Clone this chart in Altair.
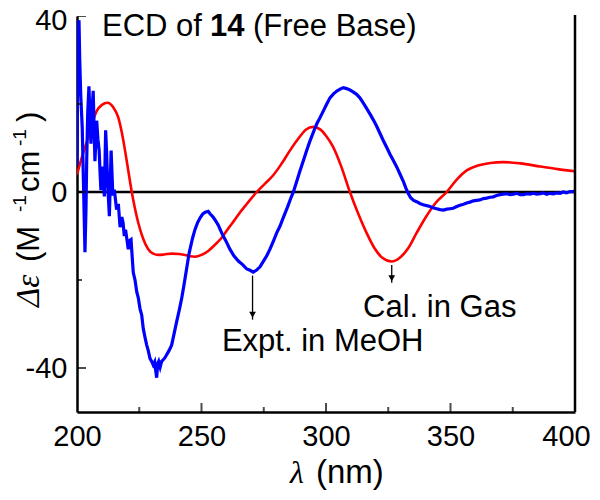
import altair as alt
import pandas as pd

# ---- data ----
calc_nm = [200, 202, 204.5, 206, 207.9, 210, 212.3, 214.5, 216.6, 218, 219.3, 220.7, 222,
           223.3, 224.6, 226.5, 228.6, 230.6, 232.7, 235, 238, 241, 243.4, 245.5, 247.4,
           250, 252.7, 255.4, 258.1, 261, 263.5, 265.5, 267.5, 269.5, 272.2, 275.5, 278.8,
           282, 285.5, 289, 292, 294.9, 297.5, 300, 302.9, 306, 309.6, 313, 316.3, 319.5,
           322.5, 326.4, 329.5, 333, 336.4, 340, 344, 348.5, 352.5, 356.5, 361, 366, 371.2,
           378, 386, 393, 400]
calc_val = [4, 8, 12.4, 15.5, 18.4, 19.8, 20.3, 19.3, 16.9, 13.5, 9.4, 4.5, 0,
            -3.8, -7.0, -10.5, -13.0, -14.0, -14.3, -14.2, -14.0, -14.1, -14.3, -14.6, -14.7,
            -14.3, -13.4, -12, -10.4, -8.1, -6.2, -4.6, -3.2, -1.8, 0, 1.9, 3.8,
            6.3, 9.4, 12.2, 14.2, 14.8, 14.3, 12.8, 10.2, 6.0, 0, -5, -9.3, -12.8,
            -14.9, -15.8, -15.0, -12.8, -9.3, -5.8, -2.5, 0, 2.8, 4.9, 6.0, 6.6, 6.8,
            6.5, 5.8, 5.2, 4.7]

expt_nm = [200.0, 200.4, 200.8, 201.1, 201.5, 202.1, 202.6, 203.2, 203.6, 203.9, 204.3, 204.8,
           205.2, 205.6, 206.0, 206.5, 206.9, 207.2, 207.6, 207.9, 208.4, 208.9, 209.3, 209.6,
           210.2, 210.6, 211.0, 211.5, 211.9, 212.3, 213.0, 213.7, 214.4, 215.0, 215.5, 215.9,
           216.6, 217.3, 218.0, 218.5, 219.0, 219.5, 220.1, 220.6, 221.2, 221.7, 222.2, 222.6,
           223.3, 224.0, 224.6, 225.3, 226.0, 226.6, 227.3, 228.0, 228.6, 229.3, 230.0, 230.6,
           231.2, 231.6, 232.0, 232.4, 232.8, 233.4, 234.0, 234.8, 235.4, 236.0, 237.0, 238.0,
           239.0, 240.0, 241.0, 242.0, 243.0, 244.0, 245.0, 245.4, 246.4, 247.4, 248.4, 249.4,
           250.5, 251.5, 252.7, 253.5, 254.5, 255.4, 256.8, 258.1, 259.7, 261.4, 263.0, 264.8,
           266.5, 268.2, 269.5, 270.8, 272.0, 273.5, 275.0, 276.2, 277.5, 279.0, 280.2, 281.5,
           283.0, 284.5, 286.0, 286.9, 288.0, 289.5, 291.0, 292.2, 293.5, 295.0, 296.3, 297.6,
           299.0, 300.3, 301.6, 303.0, 304.5, 306.0, 307.0, 308.3, 309.6, 311.0, 312.3, 313.6,
           315.0, 316.3, 317.7, 319.0, 320.3, 321.7, 323.0, 324.4, 325.7, 327.0, 328.4, 329.7,
           331.0, 332.0, 333.0, 334.0, 335.2, 336.4, 337.7, 339.0, 340.4, 341.8, 343.0, 344.4,
           345.8, 347.2, 348.5, 349.8, 351.1, 352.5, 353.8, 355.2, 356.5, 357.8, 359.2, 360.5,
           361.8, 363.2, 364.5, 365.9, 367.2, 368.5, 369.9, 371.2, 372.6, 374.0, 375.3, 376.6,
           378.0, 379.3, 380.6, 382.0, 383.3, 384.6, 386.0, 387.3, 388.6, 390.0, 391.3, 392.6,
           394.0, 395.3, 396.6, 398.0, 399.3, 400.0]
expt_val = [6, 38, 39, 30, 22, 14.7, 2, -13.7, -4, 7.2, 18, 24,
            17, 11, 18, 23, 14, 7, 12, 16.2, 12, 9.4, 4, 0.4,
            5.8, 2, -1, 14, 9, 2, -5.5, 9.4, -0.8, 0.5, -2, -4,
            -2.7, -8, -5.7, -7, -10, -8.6, -11, -13, -11, -10.8, -15, -18.3,
            -20, -22.7, -24, -26.5, -28, -31, -33, -34.8, -36, -37.8, -38.5, -39.3,
            -38.6, -40.5, -42.2, -39, -38.5, -39.8, -38.5, -38, -37.6, -37, -36, -34.8,
            -32.2, -29.5, -27, -24.3, -21, -17.5, -14, -13, -10.5, -8.5, -7, -5.9,
            -5, -4.6, -4.4, -5, -5.6, -6.3, -7.6, -9.3, -11, -13, -14.5, -15.7,
            -16.5, -17.5, -17.8, -18.2, -17.8, -17, -15.6, -14.5, -13, -11, -9.3, -7.8,
            -5.6, -3.5, -1.2, 0, 2, 4.7, 7.3, 9.4, 11.5, 13.7, 15.5, 16.9,
            18.5, 20, 21.4, 22.3, 23, 23.5, 23.7, 23.5, 23.2, 22.7, 22.2, 21.4,
            20.2, 19, 17.7, 16.4, 15, 13.3, 11.7, 10.1, 8.6, 7.2, 5.7, 4.1,
            2.5, 1, -0.3, -1.3, -1.9, -2.2, -2.6, -2.9, -3.1, -3.3, -3.6, -3.8,
            -4, -4.1, -3.9, -3.8, -3.7, -3.3, -3.0, -2.8, -2.5, -2.3, -2.0, -1.9,
            -1.8, -1.5, -1.4, -1.2, -1.1, -0.8, -0.6, -0.5, -0.4, -0.6, -0.5, -0.3,
            -0.6, -0.6, -0.4, -0.5, -0.3, -0.5, -0.4, -0.2, -0.5, -0.3, -0.4, -0.2,
            -0.3, 0, -0.2, 0.1, 0.1, 0.2]

x_major = [200, 250, 300, 350, 400]
x_minor = [225, 275, 325, 375]
y_major = [-40, 0, 40]
y_minor = [-20, 20]

annot_text = ["Expt. in MeOH", "Cal. in Gas"]
annot_x = [258.2, 314.9]
annot_y = [-36.2, -28.3]
arrow_x = [270.5, 326.4]
arrow_y1 = [-19.0, -16.6]
arrow_y2 = [-29.0, -20.6]
arrow_head = [-27.9, -19.6]

TOP = 16   # absolute page y of plot top
LEFT = 77  # absolute page x of plot left
BOTTOM = 412
W, H = 498, BOTTOM - TOP
SANS = "Liberation Sans"
SERIF = "Liberation Serif"

xs = alt.Scale(domain=[200, 400], nice=False, zero=False)
ys = alt.Scale(domain=[-50, 40], nice=False, zero=False)

calc_df = pd.DataFrame({"nm": calc_nm, "v": calc_val})
expt_df = pd.DataFrame({"nm": expt_nm, "v": expt_val})

base_axes = alt.Chart(pd.DataFrame({"nm": [200, 400], "v": [-50, 40]})).mark_point(opacity=0).encode(
    x=alt.X("nm:Q", scale=xs, axis=alt.Axis(values=x_major, title=None, grid=False, ticks=False,
            tickSize=0, labelFontSize=29, labelFont=SANS, labelColor="black", labelPadding=10,
            domainColor="black", domainWidth=2.5, labelFlush=False,
            labelOffset={"condition": {"test": "datum.value === 400", "value": -9}, "value": 0})),
    y=alt.Y("v:Q", scale=ys, axis=alt.Axis(values=y_major, title=None, grid=False, ticks=False,
            tickSize=0, labelFontSize=29, labelFont=SANS, labelColor="black", labelPadding=10,
            domainColor="black", domainWidth=2.5, labelFlush=False, labelExpr="'' + datum.value",
            labelOffset={"condition": {"test": "datum.value === 40", "value": 4}, "value": 0})),
)

zero = alt.Chart(pd.DataFrame({"v": [0]})).mark_rule(color="black", strokeWidth=2.5).encode(
    y=alt.Y("v:Q", scale=ys))

right = alt.Chart(pd.DataFrame({"v": [0]})).mark_rule(color="black", strokeWidth=2.5).encode(
    x=alt.value(W), y=alt.value(-1), y2=alt.value(H))

xmaj = alt.Chart(pd.DataFrame({"nm": x_major})).mark_tick(orient="vertical", size=18, thickness=2,
        color="black", clip=True).encode(x=alt.X("nm:Q", scale=xs), y=alt.value(H))
xmin = alt.Chart(pd.DataFrame({"nm": x_minor})).mark_tick(orient="vertical", size=10, thickness=2,
        color="black", clip=True).encode(x=alt.X("nm:Q", scale=xs), y=alt.value(H))
ymaj = alt.Chart(pd.DataFrame({"v": y_major})).mark_tick(orient="horizontal", size=18, thickness=2,
        color="black", clip=True).encode(y=alt.Y("v:Q", scale=ys), x=alt.value(0))
ymin = alt.Chart(pd.DataFrame({"v": y_minor})).mark_tick(orient="horizontal", size=10, thickness=2,
        color="black", clip=True).encode(y=alt.Y("v:Q", scale=ys), x=alt.value(0))

red = alt.Chart(calc_df).mark_line(color="#ff0000", strokeWidth=2.6, interpolate="monotone",
        clip=True).encode(x=alt.X("nm:Q", scale=xs), y=alt.Y("v:Q", scale=ys))
blue = alt.Chart(expt_df).mark_line(color="#0000ff", strokeWidth=3.2, clip=True).encode(
        x=alt.X("nm:Q", scale=xs), y=alt.Y("v:Q", scale=ys))

arr_df = pd.DataFrame({"x": arrow_x, "y1": arrow_y1, "y2": arrow_y2, "h": arrow_head})
arrows = alt.Chart(arr_df).mark_rule(color="black", strokeWidth=1.3).encode(
    x=alt.X("x:Q", scale=xs), y=alt.Y("y1:Q", scale=ys), y2="y2:Q")
heads = alt.Chart(arr_df).mark_point(shape="triangle-down", filled=True, color="black",
        size=45, opacity=1).encode(x=alt.X("x:Q", scale=xs), y=alt.Y("h:Q", scale=ys))

ann_df = pd.DataFrame({"t": annot_text, "x": annot_x, "y": annot_y})
annots = alt.Chart(ann_df).mark_text(align="left", baseline="alphabetic", fontSize=31,
        font=SANS, color="black").encode(x=alt.X("x:Q", scale=xs), y=alt.Y("y:Q", scale=ys),
        text="t:N")

def txt(t, x, y, size=29, font=SANS, weight="normal", style="normal", angle=0):
    return alt.Chart(pd.DataFrame({"t": [t]})).mark_text(
        align="left", baseline="alphabetic", fontSize=size, font=font, fontWeight=weight,
        fontStyle=style, angle=angle, color="black").encode(
        x=alt.value(x), y=alt.value(y), text="t:N")

# title (inside plot)
t1 = txt("ECD of", 25, 36 - TOP, size=31)
t2 = txt("14", 133, 36 - TOP, size=31, weight="bold")
t3 = txt("(Free Base)", 176, 36 - TOP, size=31)

# x-axis title
xt1 = txt("λ", 290 - LEFT, 483 - TOP, size=32, font=SERIF, style="italic")
xt2 = txt("(nm)", 316 - LEFT, 483 - TOP, size=33)

# y-axis title (rotated)
yx = 39 - LEFT
yt1 = txt("Δε", yx, 307 - TOP, size=33, font=SERIF, style="italic", angle=270)
yt2 = txt("(M", yx, 262 - TOP, size=31, angle=270)
yt3 = txt("-1", yx - 13, 212 - TOP, size=19, angle=270)
yt4 = txt("cm", yx, 192 - TOP, size=31, angle=270)
yt5 = txt("-1", yx - 13, 146 - TOP, size=19, angle=270)
yt6 = txt(")", yx, 122 - TOP, size=31, angle=270)

chart = alt.layer(
    base_axes, zero, red, blue, right, xmaj, xmin, ymaj, ymin, arrows, heads, annots,
    t1, t2, t3, xt1, xt2, yt1, yt2, yt3, yt4, yt5, yt6
).properties(
    width=W, height=H,
    autosize=alt.AutoSizeParams(type="none"),
    padding={"left": LEFT - 8, "top": TOP - 8, "right": 17, "bottom": 80},
).configure_view(stroke=None)

chart.save("out.html", embed_options={"renderer": "svg", "actions": False})
